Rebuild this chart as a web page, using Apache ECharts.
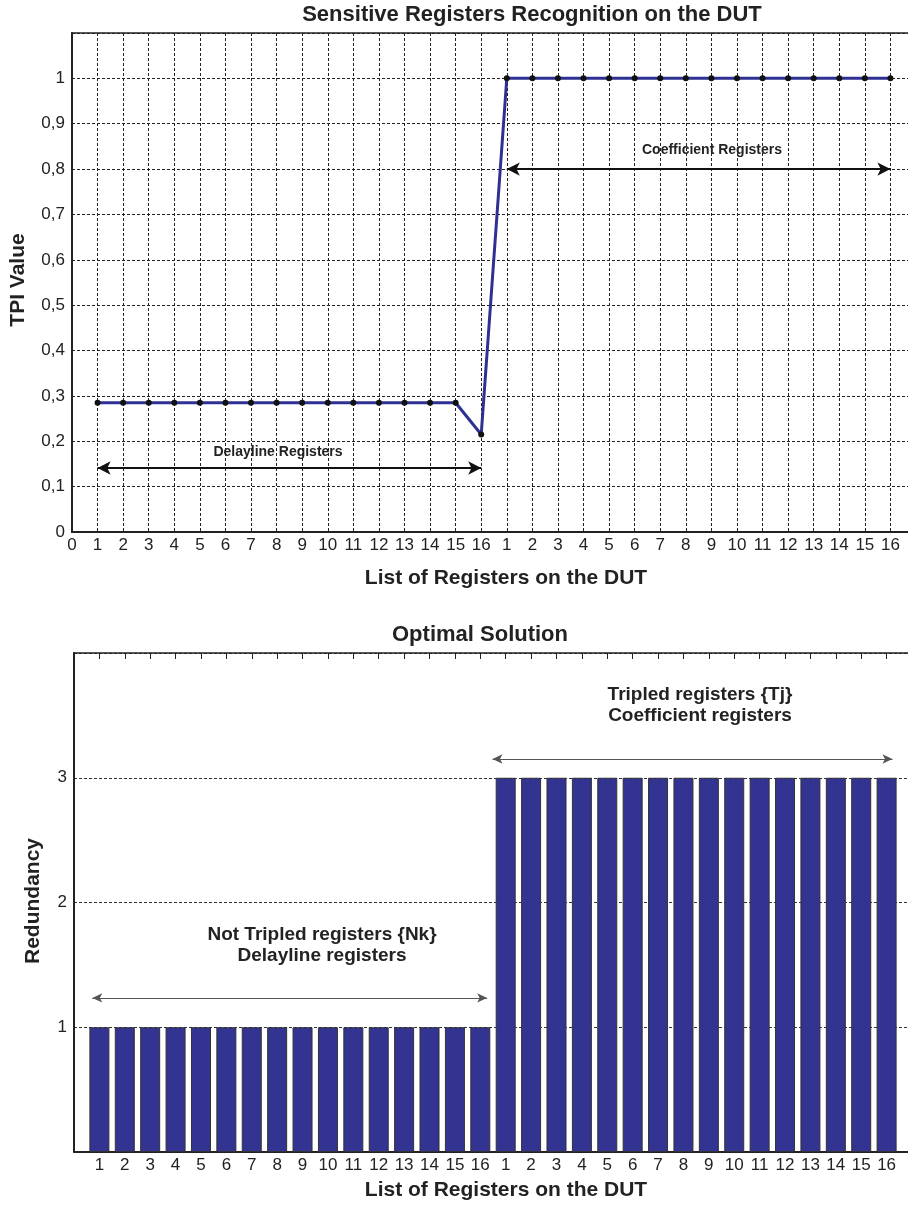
<!DOCTYPE html>
<html>
<head>
<meta charset="utf-8">
<script src="https://cdn.jsdelivr.net/npm/echarts@6/dist/echarts.min.js"></script>
<style>
html,body{margin:0;padding:0;background:#fff;}
#c{width:908px;height:1207px;}
</style>
</head>
<body>
<div id="c"></div>
<script>
// ---- data ----
const registerIds = [1,2,3,4,5,6,7,8,9,10,11,12,13,14,15,16];
const tpiDelayline = [0.285,0.285,0.285,0.285,0.285,0.285,0.285,0.285,0.285,0.285,0.285,0.285,0.285,0.285,0.285,0.215];
const tpiCoefficient = [1,1,1,1,1,1,1,1,1,1,1,1,1,1,1,1];
const redundancyDelayline = [1,1,1,1,1,1,1,1,1,1,1,1,1,1,1,1];
const redundancyCoefficient = [3,3,3,3,3,3,3,3,3,3,3,3,3,3,3,3];
// annotation arrows: [fromPos, toPos, level]
const tpiArrows = [[1, 16, 0.141], [17, 32, 0.80]];
const redundancyArrows = [[0.72, 16.27, 1.235], [16.48, 32.23, 3.15]];

// ---- build ----
const nDelay = registerIds.length;
const posLabel = {};
registerIds.forEach((id, i) => { posLabel[i + 1] = String(id); posLabel[nDelay + i + 1] = String(id); });
const tpiPoints = tpiDelayline.map((v, i) => [i + 1, v]).concat(tpiCoefficient.map((v, i) => [nDelay + i + 1, v]));
const barPoints = redundancyDelayline.map((v, i) => [i + 1, v]).concat(redundancyCoefficient.map((v, i) => [nDelay + i + 1, v]));
const FONT = '"Liberation Sans", Arial, Helvetica, sans-serif';
const INK = '#222';

function arrowData(list) {
  return list.map(a => [{coord: [a[0], a[2]]}, {coord: [a[1], a[2]]}]);
}

const chart = echarts.init(document.getElementById('c'), null, {renderer: 'canvas'});
const dashed = {type: [3, 2], color: '#222', width: 1};

function txt(x, y, text, size, extra) {
  return Object.assign({
    type: 'text', x: x, y: y, silent: true, z: 100,
    style: {text: text, fontFamily: FONT, fontSize: size, fontWeight: 'bold', fill: INK,
            align: 'center', verticalAlign: 'middle', lineHeight: 21}
  }, extra || {});
}

chart.setOption({
  animation: false,
  backgroundColor: '#fff',
  textStyle: {fontFamily: FONT},
  grid: [
    {left: 72, top: 33, width: 844, height: 499, show: true, borderColor: INK, borderWidth: 1.5,
     backgroundColor: 'transparent', outerBoundsMode: 'none', containLabel: false},
    {left: 74, top: 653, width: 838, height: 499, outerBoundsMode: 'none', containLabel: false}
  ],
  xAxis: [
    {gridIndex: 0, type: 'value', min: 0, max: 33, interval: 1,
     axisLine: {show: true, onZero: false, lineStyle: {color: INK, width: 2}},
     axisTick: {show: false},
     axisLabel: {fontSize: 17, color: INK, margin: 5, fontFamily: FONT,
                 formatter: v => v === 0 ? '0' : (posLabel[v] || '')},
     splitLine: {show: true, lineStyle: dashed}},
    {gridIndex: 1, type: 'value', min: 0, max: 33, interval: 1, position: 'bottom',
     axisLine: {show: true, onZero: false, lineStyle: {color: INK, width: 2}},
     axisTick: {show: false},
     axisLabel: {fontSize: 17, color: INK, margin: 5, fontFamily: FONT,
                 formatter: v => posLabel[v] || ''},
     splitLine: {show: false}},
    {gridIndex: 1, type: 'value', min: 0, max: 33, interval: 1, position: 'top',
     axisLine: {show: true, onZero: false, lineStyle: {color: INK, width: 1.5}},
     axisTick: {show: true, inside: true, length: 6, lineStyle: {color: INK, width: 1}},
     axisLabel: {show: false},
     splitLine: {show: false}}
  ],
  yAxis: [
    {gridIndex: 0, type: 'value', min: 0, max: 1.1, interval: 0.1,
     axisLine: {show: true, lineStyle: {color: INK, width: 2}},
     axisTick: {show: false},
     axisLabel: {fontSize: 17, color: INK, margin: 7, fontFamily: FONT,
                 formatter: v => v > 1.05 ? '' : String(Math.round(v * 10) / 10).replace('.', ',')},
     splitLine: {show: true, lineStyle: dashed}},
    {gridIndex: 1, type: 'value', min: 0, max: 4, interval: 1,
     axisLine: {show: true, lineStyle: {color: INK, width: 2}},
     axisTick: {show: false},
     axisLabel: {fontSize: 17, color: INK, margin: 7, fontFamily: FONT,
                 formatter: v => (v >= 1 && v <= 3) ? String(v) : ''},
     splitLine: {show: true, lineStyle: {type: [3, 2], color: '#333', width: 1}}}
  ],
  series: [
    {type: 'line', xAxisIndex: 0, yAxisIndex: 0, data: tpiPoints, z: 5,
     lineStyle: {color: '#2e3192', width: 3},
     symbol: 'circle', symbolSize: 6, itemStyle: {color: '#111'},
     markLine: {silent: true, symbol: ['arrow', 'arrow'], symbolSize: [10, 13],
                lineStyle: {color: '#111', width: 2, type: 'solid'},
                label: {show: false}, data: arrowData(tpiArrows)}},
    {type: 'bar', xAxisIndex: 1, yAxisIndex: 1, data: barPoints, barWidth: 20,
     itemStyle: {color: '#333391', borderColor: '#333', borderWidth: 1},
     markLine: {silent: true, symbol: ['arrow', 'arrow'], symbolSize: [7, 10],
                lineStyle: {color: '#555', width: 1.2, type: 'solid'},
                label: {show: false}, data: arrowData(redundancyArrows)}}
  ],
  graphic: [
    txt(532, 15, 'Sensitive Registers Recognition on the DUT', 22),
    txt(506, 578, 'List of Registers on the DUT', 21),
    txt(18, 280, 'TPI Value', 21, {rotation: Math.PI / 2}),
    txt(278, 452, 'Delayline Registers', 14),
    txt(712, 150, 'Coefficient Registers', 14),
    txt(480, 635, 'Optimal Solution', 22),
    txt(506, 1190, 'List of Registers on the DUT', 21),
    txt(33, 901, 'Redundancy', 21, {rotation: Math.PI / 2}),
    txt(322, 945.5, 'Not Tripled registers {Nk}\nDelayline registers', 19),
    txt(700, 705.5, 'Tripled registers {Tj}\nCoefficient registers', 19)
  ]
});
</script>
</body>
</html>
